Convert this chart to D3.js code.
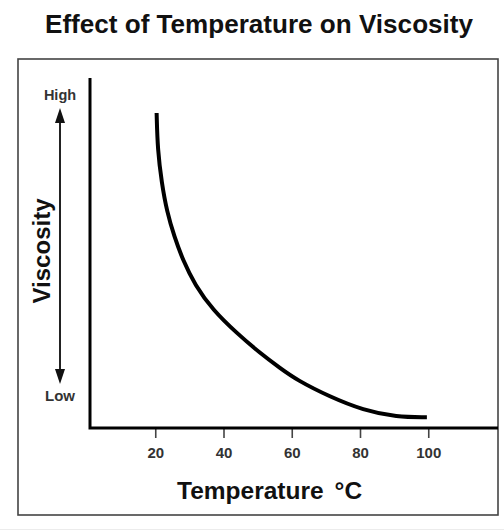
<!DOCTYPE html>
<html>
<head>
<meta charset="utf-8">
<script src="https://cdn.jsdelivr.net/npm/d3@7"></script>
<style>
  body { margin: 0; background: #fff; }
  svg { display: block; }
</style>
</head>
<body>
<script>
// Data (viscosity is relative, 0 = low, 100 = high)
var temperature = [20.4, 20.7, 21.9, 23.4, 25.6, 28.1, 31.6, 36.9, 43.9, 50.7, 56.6, 61.5, 71.2, 80.9, 90.8, 99.6];
var viscosity = [90, 79.4, 70, 61.9, 54.6, 48, 40.9, 33.7, 27.1, 21.4, 17.1, 13.7, 8.9, 5.1, 3.1, 3.1];
var xTicks = [20, 40, 60, 80, 100];

var width = 504;
var height = 531;

var svg = d3.select("body").append("svg")
    .attr("width", width)
    .attr("height", height);

// scales
var x = d3.scaleLinear().domain([0, 120]).range([87, 496.5]);
var y = d3.scaleLinear().domain([0, 100]).range([428, 78]);

// Title
svg.append("text")
    .attr("x", 259)
    .attr("y", 33)
    .attr("text-anchor", "middle")
    .attr("font-family", "Liberation Sans, Arial, sans-serif")
    .attr("font-weight", "bold")
    .attr("font-size", 25)
    .attr("textLength", 428)
    .attr("lengthAdjust", "spacingAndGlyphs")
    .attr("fill", "#111")
    .text("Effect of Temperature on Viscosity");

// Frame
svg.append("rect")
    .attr("x", 18)
    .attr("y", 59)
    .attr("width", 480)
    .attr("height", 456)
    .attr("fill", "none")
    .attr("stroke", "#444")
    .attr("stroke-width", 1.6);

// faint line at the very bottom
svg.append("line")
    .attr("x1", 0).attr("x2", width)
    .attr("y1", 529.5).attr("y2", 529.5)
    .attr("stroke", "#ececec");

// X axis ticks + labels
var xAxis = svg.append("g")
    .attr("transform", "translate(0," + y(0) + ")")
    .call(d3.axisBottom(x).tickValues(xTicks).tickSize(10).tickPadding(0));

xAxis.select(".domain").remove();
xAxis.selectAll(".tick line")
    .attr("stroke", "#444")
    .attr("stroke-width", 1.6);
xAxis.selectAll(".tick text")
    .attr("y", 29.5)
    .attr("dy", 0)
    .attr("font-family", "Liberation Sans, Arial, sans-serif")
    .attr("font-weight", "bold")
    .attr("font-size", 15)
    .attr("fill", "#333");

// Axis lines
svg.append("path")
    .attr("d", "M" + 90 + "," + y(100) + "V" + y(0) + "H" + 498)
    .attr("fill", "none")
    .attr("stroke", "#000")
    .attr("stroke-width", 3);

// Curve
var line = d3.line()
    .x(function(d, i) { return x(temperature[i]); })
    .y(function(d) { return y(d); })
    .curve(d3.curveBasis);

svg.append("path")
    .datum(viscosity)
    .attr("d", line)
    .attr("fill", "none")
    .attr("stroke", "#000")
    .attr("stroke-width", 4);

// X label
var xl = svg.append("text")
    .attr("x", 177)
    .attr("y", 499)
    .attr("font-family", "Liberation Sans, Arial, sans-serif")
    .attr("font-weight", "bold")
    .attr("font-size", 24.5)
    .attr("fill", "#111")
    .text("Temperature");
xl.append("tspan")
    .attr("dx", 11)
    .text("°C");

// Y label
svg.append("text")
    .attr("transform", "translate(50,251) rotate(-90)")
    .attr("text-anchor", "middle")
    .attr("font-family", "Liberation Sans, Arial, sans-serif")
    .attr("font-weight", "bold")
    .attr("font-size", 24)
    .attr("fill", "#111")
    .text("Viscosity");

// Arrow High / Low
var ax = 60;
svg.append("line")
    .attr("x1", ax).attr("x2", ax)
    .attr("y1", 120).attr("y2", 372)
    .attr("stroke", "#222")
    .attr("stroke-width", 2);
svg.append("path")
    .attr("d", "M" + ax + ",108L" + (ax - 5) + ",123L" + (ax + 5) + ",123Z")
    .attr("fill", "#111");
svg.append("path")
    .attr("d", "M" + ax + ",384L" + (ax - 5) + ",369L" + (ax + 5) + ",369Z")
    .attr("fill", "#111");

svg.append("text")
    .attr("x", ax)
    .attr("y", 100)
    .attr("text-anchor", "middle")
    .attr("font-family", "Liberation Sans, Arial, sans-serif")
    .attr("font-weight", "bold")
    .attr("font-size", 14.5)
    .attr("fill", "#333")
    .text("High");

svg.append("text")
    .attr("x", ax)
    .attr("y", 401)
    .attr("text-anchor", "middle")
    .attr("font-family", "Liberation Sans, Arial, sans-serif")
    .attr("font-weight", "bold")
    .attr("font-size", 15)
    .attr("fill", "#333")
    .text("Low");
</script>
</body>
</html>
